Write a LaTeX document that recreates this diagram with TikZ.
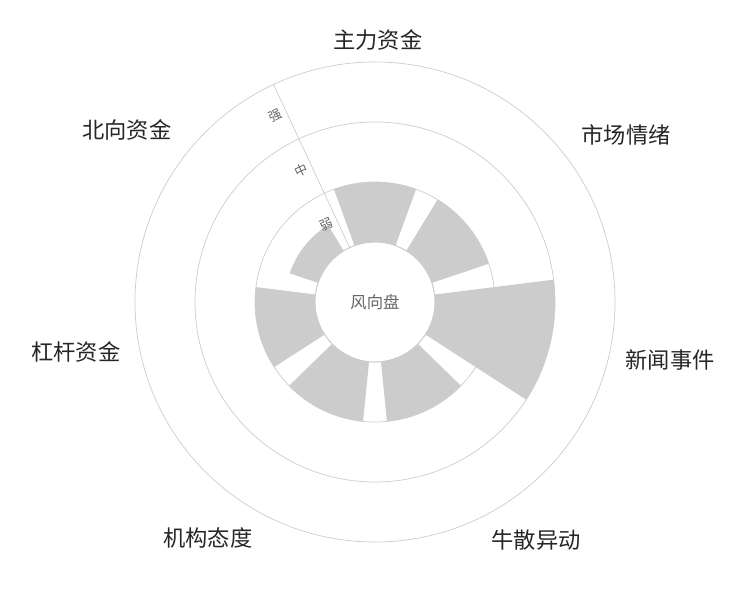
\documentclass[tikz,border=0pt]{standalone}
\usepackage{fontspec}
\newfontfamily\cjk{Noto Sans CJK SC}
\usetikzlibrary{positioning}
\tikzset{
  ring/.style={draw=black!20, line width=0.6pt},
  bar/.style={fill=black!20, draw=none},
  catlabel/.style={font=\cjk\fontsize{19}{22}\selectfont, text=black!85},
  levellabel/.style={font=\cjk\fontsize{11}{13}\selectfont, text=black!60, rotate=25},
}
\begin{document}
\begin{tikzpicture}[x=0.03cm, y=0.03cm]
  \useasboundingbox (-375,-298) rectangle (375,302);
  % rings
  \foreach \r/\n in {60/hole,120/ringa,180/ringb,240/ringc}
    \draw[ring] (0,0) circle (\r);
  % bars: angle / outer radius
  \foreach \a/\r in {90/120, 38.57/120, -12.86/180, -64.29/120, -115.71/120, -167.14/120, 141.43/90}
    \fill[bar] (\a-20:60) arc (\a-20:\a+20:60) -- (\a+20:\r) arc (\a+20:\a-20:\r) -- cycle;
  \draw[ring] (0,0) circle (60);
  % axis
  \coordinate (axa) at (115:60);
  \coordinate (axb) at (115:240);
  \draw[ring] (axa) -- (axb);
  \node[levellabel, left=1pt] (weak) at (115:90) {弱};
  \node[levellabel, left=1pt] (mid) at (115:150) {中};
  \node[levellabel, left=1pt] (strong) at (115:210) {强};
  \node[font=\cjk\fontsize{14}{16}\selectfont, text=black!60] (center) at (0,0) {风向盘};
  % categories
  \node[catlabel] (zhuli) at (3,262) {主力资金};
  \node[catlabel] (shichang) at (251,167) {市场情绪};
  \node[catlabel] (xinwen) at (295,-58) {新闻事件};
  \node[catlabel] (niusan) at (161,-238) {牛散异动};
  \node[catlabel] (jigou) at (-167,-236) {机构态度};
  \node[catlabel] (ganggan) at (-299,-50) {杠杆资金};
  \node[catlabel] (beixiang) at (-248,172) {北向资金};
\end{tikzpicture}
\end{document}
